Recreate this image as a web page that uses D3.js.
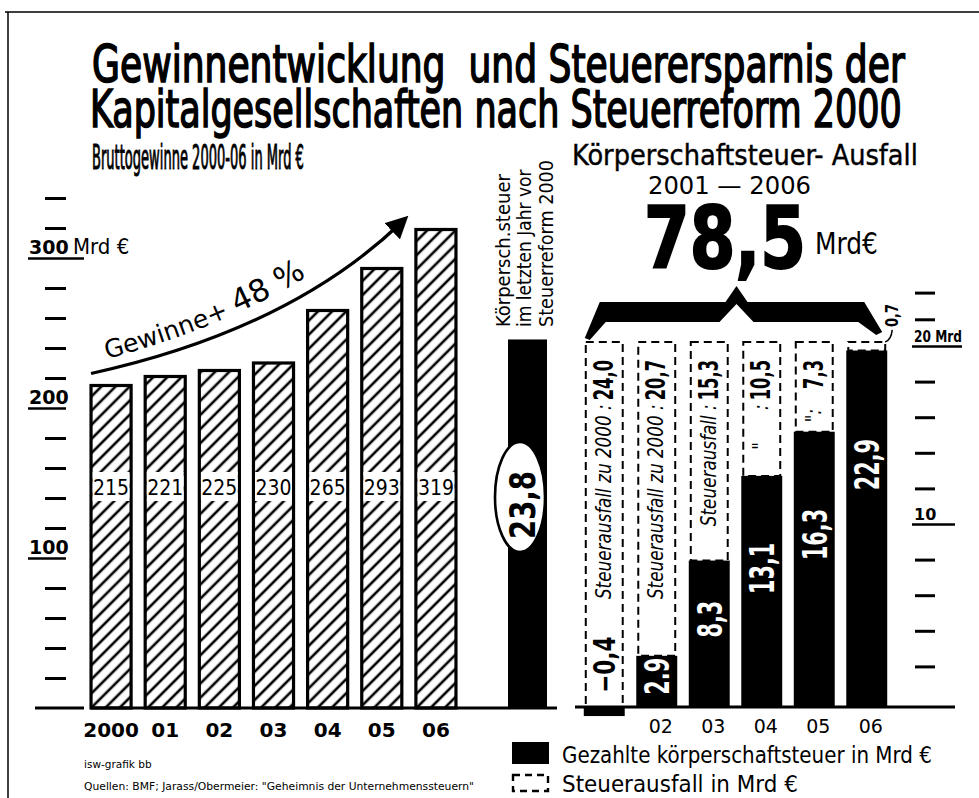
<!DOCTYPE html>
<html lang="de">
<head>
<meta charset="utf-8">
<title>Gewinnentwicklung und Steuerersparnis</title>
<script src="https://d3js.org/d3.v7.min.js"></script>
<style>
  body { margin: 0; background: #fff; }
  svg { display: block; }
  text { font-family: "DejaVu Sans Condensed", "Liberation Sans Narrow", sans-serif; fill: #000; }
</style>
</head>
<body>
<svg width="979" height="798"></svg>
<script>
const svg = d3.select("svg");

// ---- data ----
const years = ["2000", "01", "02", "03", "04", "05", "06"];
const profits = [215, 221, 225, 230, 265, 293, 319];
const profitTicks = [20, 40, 60, 80, 120, 140, 160, 180, 220, 240, 260, 280, 320, 340];
const profitLabelTicks = [100, 200, 300];

const taxYears = ["01", "02", "03", "04", "05", "06"];
const taxTickLabels = ["", "02", "03", "04", "05", "06"];
const taxPaid = [-0.4, 2.9, 8.3, 13.1, 16.3, 22.9];
const taxLoss = [24.0, 20.7, 15.3, 10.5, 7.3, 0.7];
const paidLabels = ["\u22120,4", "2.9", "8,3", "13,1", "16,3", "22,9"];
const lossLabels = ["24,0", "20,7", "15,3", "10,5", "7,3", "0,7"];
const lossPrefix = ["Steuerausfall zu 2000 :", "Steuerausfall zu 2000 :", "Steuerausfall :", "\"      :", "\":   ", ""];
const tax2000 = 23.8;
const lossTotal = "78,5";
const taxTicks = [2, 4, 6, 8, 12, 14, 16, 18, 21.5, 23];
const taxLabelTicks = [10, 20];

// ---- scales ----
const xL = d3.scaleBand().domain(years).range([84, 463]).paddingInner(0.26).paddingOuter(0.13);
const yL = d3.scaleLinear().domain([0, 300]).range([708, 258]);
const xR = d3.scaleBand().domain(taxYears).range([578, 893]).paddingInner(0.22).paddingOuter(0.11);
// the hand drawn bars get squeezed above ~14 Mrd, so two segments
const yR = d3.scaleLinear().domain([0, 14, 24]).range([707, 460, 337]);
const yRAxis = d3.scaleLinear().domain([0, 20]).range([702, 346]);

// hatch
const defs = svg.append("defs");
defs.append("pattern").attr("id", "hatch")
  .attr("patternUnits", "userSpaceOnUse").attr("width", 10).attr("height", 10)
  .attr("patternTransform", "rotate(45)")
  .append("line").attr("x1", 5).attr("y1", 0).attr("x2", 5).attr("y2", 10)
  .attr("stroke", "#000").attr("stroke-width", 2.6);
defs.append("marker").attr("id", "head")
  .attr("viewBox", "0 0 10 10").attr("refX", 6).attr("refY", 5)
  .attr("markerWidth", 7).attr("markerHeight", 7).attr("orient", "auto")
  .append("path").attr("d", "M0,0L10,5L0,10Z").attr("fill", "#000");

// frame
svg.append("path").attr("d", "M5,12H979M8,12V798").attr("stroke", "#000").attr("stroke-width", 1.5).attr("fill", "none");

// horizontal hand lettering, squeezed to a given width
function line(x, y, str, size, len, weight, thick) {
  const t = svg.append("text")
    .style("font-size", size + "px").style("font-weight", weight || "normal")
    .style("stroke", thick ? "#000" : null).style("stroke-width", thick || null)
    .style("white-space", "pre")
    .text(str);
  const k = len / t.node().getComputedTextLength();
  t.attr("transform", `translate(${x},${y}) scale(${k},1)`);
  return t;
}
line(92, 82, "Gewinnentwicklung  und Steuerersparnis der", 52, 813, "normal", 1.6);
line(90, 127, "Kapitalgesellschaften nach Steuerreform 2000", 52, 812, "normal", 1.6);
line(92, 169, "Bruttogewinne 2000-06 in Mrd \u20AC", 34, 212, "normal", 1);
line(572, 165, "K\u00F6rperschaftsteuer- Ausfall", 29, 346, "normal", 0.4);
line(648, 194, "2001 \u2014 2006", 25, 163);
line(644, 268, lossTotal, 86, 162, "bold", 2);
line(815, 254, "Mrd\u20AC", 31, 63);

// rotated text helper: reads bottom to top
function vText(x, y, str, size, o) {
  o = o || {};
  return svg.append("text")
    .attr("transform", `translate(${x},${y}) rotate(-90) scale(${o.sx || 1},1)`)
    .attr("text-anchor", o.anchor || "start")
    .attr("dominant-baseline", "central")
    .style("font-size", size + "px")
    .style("font-weight", o.weight || "normal")
    .style("font-style", o.style || "normal")
    .style("white-space", "pre")
    .style("fill", o.fill || "#000")
    .text(str);
}

// ---- left chart: profits ----
const gL = svg.append("g");
gL.selectAll("rect.bar").data(profits).join("rect").attr("class", "bar")
  .attr("x", (d, i) => xL(years[i]))
  .attr("y", d => yL(d))
  .attr("width", xL.bandwidth())
  .attr("height", d => yL(0) - yL(d))
  .attr("fill", "url(#hatch)").attr("stroke", "#000").attr("stroke-width", 3.2);
gL.selectAll("rect.gap").data(profits).join("rect").attr("class", "gap")
  .attr("x", (d, i) => xL(years[i]) + 1.6)
  .attr("y", 472).attr("height", 29)
  .attr("width", xL.bandwidth() - 3.2).attr("fill", "#fff");
gL.selectAll("text.val").data(profits).join("text").attr("class", "val")
  .attr("x", (d, i) => xL(years[i]) + xL.bandwidth() / 2)
  .attr("y", 495).attr("text-anchor", "middle")
  .style("font-size", "21px")
  .text(d => d);

// left axis ticks
const tk = svg.append("g").attr("transform", "translate(45,0)")
  .call(d3.axisRight(yL).tickValues(profitTicks).tickSize(21).tickFormat(""));
tk.select(".domain").remove();
tk.selectAll("line").attr("stroke", "#000").attr("stroke-width", 3);

const lk = svg.append("g").attr("transform", "translate(28,0)")
  .call(d3.axisRight(yL).tickValues(profitLabelTicks).tickSize(38).tickFormat(d => d));
lk.select(".domain").remove();
lk.selectAll("line").attr("stroke", "#000").attr("stroke-width", 2.6)
  .attr("x2", d => d === 300 ? 56 : 38);
lk.selectAll("text").attr("x", 1).attr("y", -5).attr("dy", null)
  .attr("text-anchor", "start")
  .style("font-family", "'DejaVu Sans', sans-serif")
  .style("font-size", "19px").style("font-weight", "bold")
  .text(d => d);
lk.selectAll(".tick").filter(d => d === 300).append("text")
  .attr("x", 45).attr("y", -5).attr("fill", "#000")
  .style("font-size", "22px").text("Mrd \u20AC");

// baselines
svg.append("line").attr("x1", 35).attr("x2", 84).attr("y1", yL(0)).attr("y2", yL(0))
  .attr("stroke", "#000").attr("stroke-width", 3);
svg.append("line").attr("x1", xL(years[0])).attr("x2", 557).attr("y1", yL(0)).attr("y2", yL(0))
  .attr("stroke", "#000").attr("stroke-width", 3);

// x labels left
const bx = svg.append("g").attr("transform", `translate(0,${yL(0)})`)
  .call(d3.axisBottom(xL).tickSize(0));
bx.select(".domain").remove();
bx.selectAll("text").attr("y", 29).attr("dy", null)
  .style("font-family", "'DejaVu Sans', sans-serif")
  .style("font-size", "20px").style("font-weight", "bold");

// growth arrow
const S = [xL(years[0]), yL(profits[0] + 8)];
const C = [xL(years[4]) - 18, yL(252)];
const E = [xL(years[6]) - 14, yL(profits[6] + 5)];
svg.append("path")
  .attr("d", `M${S}Q${C} ${E}`)
  .attr("fill", "none").attr("stroke", "#000").attr("stroke-width", 3.2)
  .attr("marker-end", "url(#head)");
defs.append("path").attr("id", "arc")
  .attr("d", `M${S[0] + 6},${S[1] - 12}Q${C[0]},${C[1] - 18} ${E[0]},${E[1] - 18}`);
const gt = svg.append("text").style("font-size", "25px").style("font-family", "'DejaVu Sans', sans-serif");
const tp = gt.append("textPath").attr("href", "#arc").attr("startOffset", 10);
tp.append("tspan").text("Gewinne+ ");
tp.append("tspan").style("font-size", "31px").text("48 %");

// ---- middle: 2000 reference bar ----
const midX = 508, midW = 39;
svg.append("rect").attr("x", midX).attr("y", yR(tax2000)).attr("width", midW)
  .attr("height", yR(0) - yR(tax2000)).attr("fill", "#000");
svg.append("ellipse").attr("cx", 520).attr("cy", 497).attr("rx", 25).attr("ry", 55)
  .attr("fill", "#fff").attr("stroke", "#000").attr("stroke-width", 2.6);
vText(523, 505, String(tax2000).replace(".", ","), 36, { anchor: "middle", weight: "bold", sx: 0.85 });
vText(503, 327, "K\u00F6rpersch.steuer", 20, { sx: 1 });
vText(524, 327, "im letzten Jahr vor", 20, { sx: 0.95 });
vText(546, 327, "Steuerreform 2000", 20, { sx: 0.98 });

// ---- right chart: corporate tax ----
const gR = svg.append("g");
const bw = xR.bandwidth();
gR.selectAll("rect.paid").data(taxPaid).join("rect").attr("class", "paid")
  .attr("x", (d, i) => xR(taxYears[i]))
  .attr("y", d => yR(Math.max(d, 0)))
  .attr("width", bw)
  .attr("height", d => Math.abs(yR(d) - yR(0)) + (d < 0 ? 2 : 0))
  .attr("fill", "#000");
gR.selectAll("rect.loss").data(taxLoss).join("rect").attr("class", "loss")
  .attr("x", (d, i) => xR(taxYears[i]) + 2)
  .attr("y", (d, i) => yR(d + taxPaid[i]))
  .attr("width", bw - 4)
  .attr("height", (d, i) => yR(Math.max(taxPaid[i], 0)) - yR(d + taxPaid[i]))
  .attr("fill", "none").attr("stroke", "#000").attr("stroke-width", 2)
  .attr("stroke-dasharray", "8,5");

// labels in the bars
taxPaid.forEach((v, i) => {
  const cx = xR(taxYears[i]) + bw / 2;
  if (v < 0) {
    vText(cx, yR(2.4), paidLabels[i], 30, { anchor: "middle", weight: "bold", sx: 0.8 });
  } else {
    vText(cx + 1, yR(v * 0.6), paidLabels[i], 34, { anchor: "middle", weight: "bold", sx: 0.68, fill: "#fff" });
  }
});
taxLoss.forEach((v, i) => {
  if (!lossPrefix[i]) return;
  const cx = xR(taxYears[i]) + bw / 2 - 1;
  const top = yR(v + taxPaid[i]) + 18;
  const num = vText(cx, top, lossLabels[i], 26, { anchor: "end", weight: "bold", sx: 0.7 });
  const len = num.node().getComputedTextLength() * 0.7;
  vText(cx, top + len + 4, lossPrefix[i], 22, { anchor: "end", style: "italic", sx: 0.85 });
});
// 0,7 for 2006 sits outside
const last = taxYears.length - 1;
const lx = xR(taxYears[last]) + bw;
vText(lx + 5, yR(taxLoss[last] + taxPaid[last]) - 15, lossLabels[last], 17, { anchor: "start", weight: "bold", sx: 0.85 });
svg.append("path")
  .attr("d", `M${lx - 2},${yR(23.6)}q6,-2 7,-12`)
  .attr("fill", "none").attr("stroke", "#000").attr("stroke-width", 1.5);

// brace over the shortfall boxes
const bl = xR(taxYears[0]), br = xR(taxYears[last]) + bw, bm = (bl + br) / 2 + 1;
const bt = yR(23.6) - 40;
svg.append("path")
  .attr("d", `M${bl + 1},${bt + 36}L${bl + 16},${bt}L${bm - 11},${bt}L${bm},${bt - 16}L${bm + 11},${bt}` +
    `L${br - 23},${bt}L${br - 5},${bt + 30}L${br - 11},${bt + 33}L${br - 29},${bt + 20}L${bm + 17},${bt + 20}` +
    `L${bm},${bt + 2}L${bm - 17},${bt + 20}L${bl + 22},${bt + 20}L${bl + 6},${bt + 38}Z`)
  .attr("fill", "#000");

// right axis
const rt = svg.append("g").attr("transform", "translate(915,0)")
  .call(d3.axisRight(yRAxis).tickValues(taxTicks).tickSize(20).tickFormat(""));
rt.select(".domain").remove();
rt.selectAll("line").attr("stroke", "#000").attr("stroke-width", 3);
const rl = svg.append("g").attr("transform", "translate(912,0)")
  .call(d3.axisRight(yRAxis).tickValues(taxLabelTicks).tickSize(46).tickFormat(d => d === 20 ? "20 Mrd" : d));
rl.select(".domain").remove();
rl.selectAll("line").attr("stroke", "#000").attr("stroke-width", 2.4)
  .attr("x2", d => d === 20 ? 50 : 43);
rl.selectAll("text").attr("x", 2).attr("y", -5).attr("dy", null)
  .attr("text-anchor", "start")
  .style("font-family", "'DejaVu Sans', sans-serif")
  .style("font-size", "16px").style("font-weight", "bold");
rl.selectAll(".tick").filter(d => d === 20).select("text")
  .attr("textLength", 48).attr("lengthAdjust", "spacingAndGlyphs");

svg.append("line").attr("x1", 575).attr("x2", 955).attr("y1", yR(0)).attr("y2", yR(0))
  .attr("stroke", "#000").attr("stroke-width", 3);

const rx = svg.append("g").attr("transform", `translate(0,${yR(0)})`)
  .call(d3.axisBottom(xR).tickSize(0).tickFormat((d, i) => taxTickLabels[i]));
rx.select(".domain").remove();
rx.selectAll("text").attr("x", 4).attr("y", 26).attr("dy", null)
  .style("font-family", "'DejaVu Sans', sans-serif")
  .style("font-size", "19px");

// legend
svg.append("rect").attr("x", 512).attr("y", 742).attr("width", 37).attr("height", 22).attr("fill", "#000");
svg.append("rect").attr("x", 513).attr("y", 775).attr("width", 35).attr("height", 16)
  .attr("fill", "none").attr("stroke", "#000").attr("stroke-width", 2.4).attr("stroke-dasharray", "7,5");
line(562, 763, "Gezahlte k\u00F6rperschaftsteuer in Mrd \u20AC", 23, 370);
line(562, 792, "Steuerausfall in Mrd \u20AC", 23, 236);

// footnotes
svg.append("text").attr("x", 84).attr("y", 768).style("font-family", "'DejaVu Sans', sans-serif")
  .style("font-size", "10.5px").text("isw-grafik bb");
svg.append("text").attr("x", 84).attr("y", 790).style("font-family", "'DejaVu Sans', sans-serif")
  .style("font-size", "10.5px").attr("textLength", 390).attr("lengthAdjust", "spacingAndGlyphs")
  .text("Quellen: BMF; Jarass/Obermeier: \"Geheimnis der Unternehmenssteuern\"");
</script>
</body>
</html>
